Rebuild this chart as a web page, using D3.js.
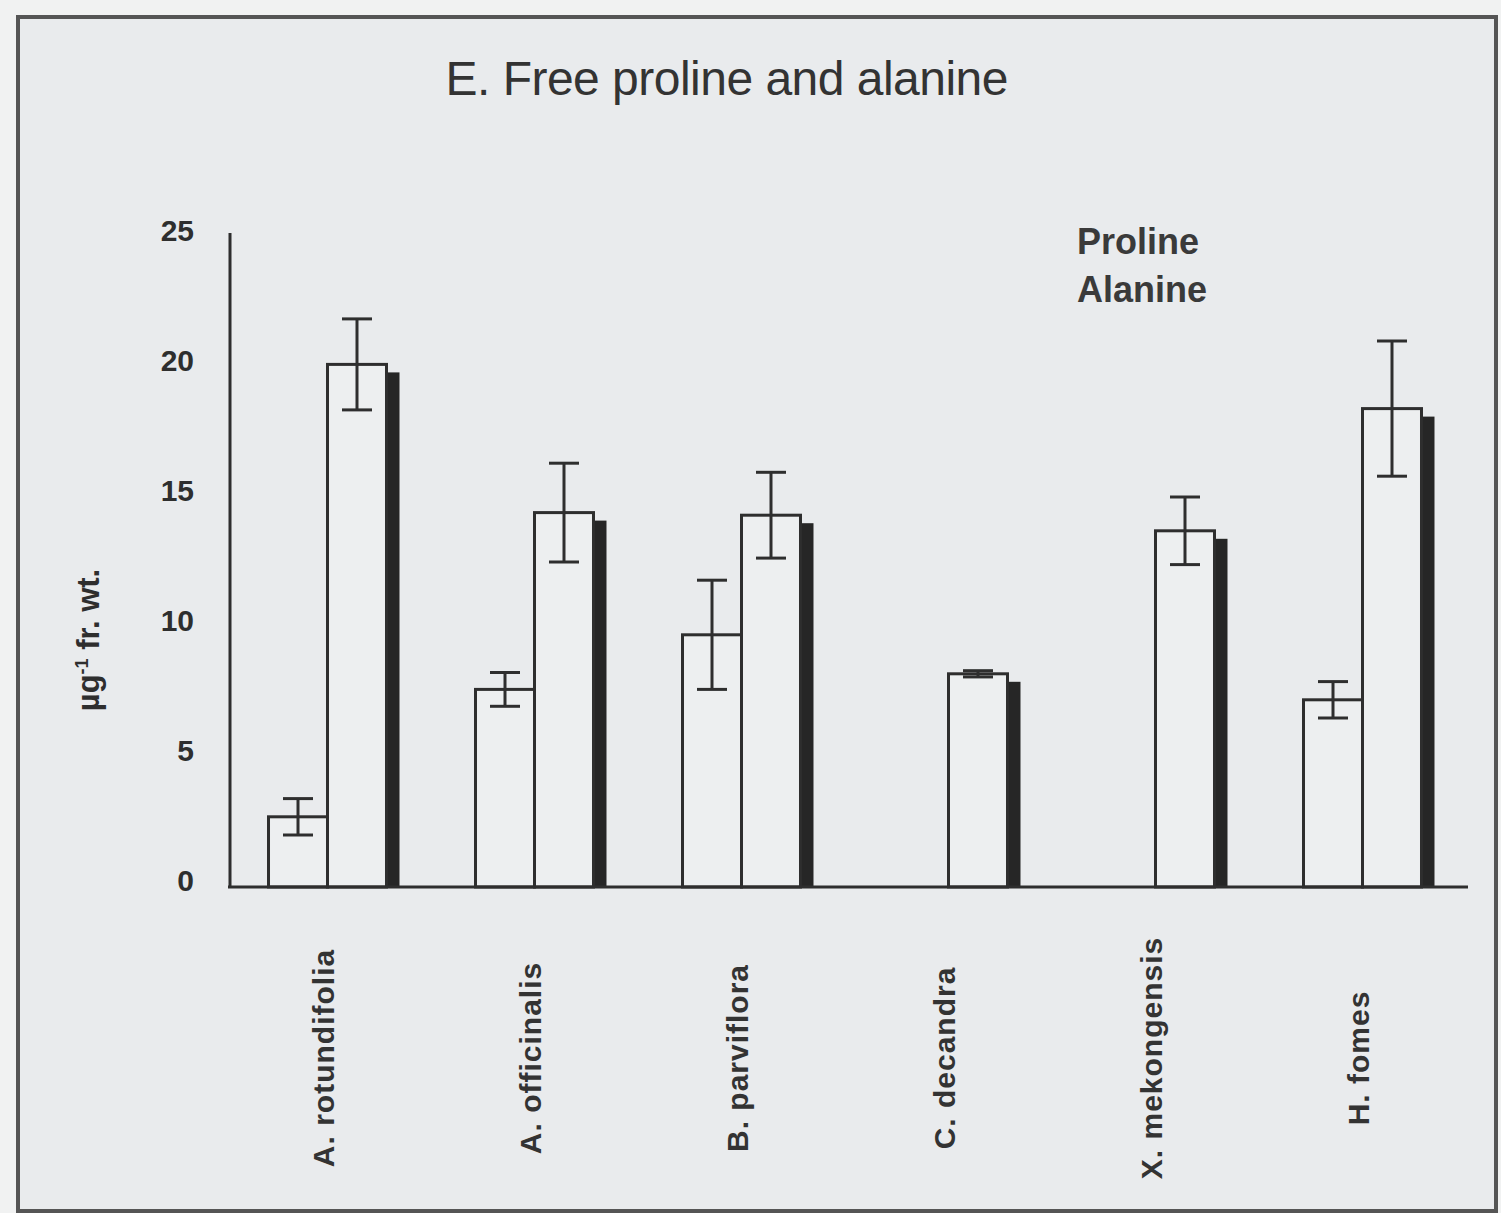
<!DOCTYPE html>
<html>
<head>
<meta charset="utf-8">
<script src="https://cdn.jsdelivr.net/npm/d3@7"></script>
<style>
  body { margin: 0; background: #f1f2f2; }
  svg { display: block; }
</style>
</head>
<body>
<svg id="chart"></svg>
<script>
const categories = ['A. rotundifolia', 'A. officinalis', 'B. parviflora', 'C. decandra', 'X. mekongensis', 'H. fomes'];
const series = ['Proline', 'Alanine'];
const prolineValues = [2.7, 7.6, 9.7, null, null, 7.2];
const prolineErrors = [0.7, 0.65, 2.1, null, null, 0.7];
const alanineValues = [20.1, 14.4, 14.3, 8.2, 13.7, 18.4];
const alanineErrors = [1.75, 1.9, 1.65, 0.12, 1.3, 2.6];
const yTicks = [0, 5, 10, 15, 20, 25];

const width = 1501;
const height = 1213;
const ink = '#2e2e2e';

const svg = d3.select('#chart')
  .attr('width', width)
  .attr('height', height);

// photo frame
svg.append('rect')
  .attr('x', 18).attr('y', 17)
  .attr('width', 1478).attr('height', 1194)
  .attr('fill', '#e9ebed')
  .attr('stroke', '#555')
  .attr('stroke-width', 4);

const x0 = d3.scaleBand()
  .domain(categories)
  .range([224, 1466])
  .paddingInner(0.43)
  .paddingOuter(0.215);

const x1 = d3.scaleBand()
  .domain(series)
  .range([0, x0.bandwidth()]);

const y = d3.scaleLinear()
  .domain([0, 25])
  .range([887, 237]);

// rows: one per bar
const rows = [];
categories.forEach((c, i) => {
  rows.push({ cat: c, s: 'Proline', v: prolineValues[i], e: prolineErrors[i] });
  rows.push({ cat: c, s: 'Alanine', v: alanineValues[i], e: alanineErrors[i] });
});
const bars = rows.filter(d => d.v != null);

// shadow behind the alanine bars (3D look of the print)
const dx = 13, dy = 8;
svg.append('g')
  .selectAll('rect')
  .data(bars.filter(d => d.s === 'Alanine'))
  .join('rect')
  .attr('x', d => x0(d.cat) + x1(d.s) + dx)
  .attr('y', d => y(d.v) + dy)
  .attr('width', x1.bandwidth())
  .attr('height', d => y(0) - y(d.v) - dy)
  .attr('fill', '#262626');

svg.append('g')
  .selectAll('rect')
  .data(bars)
  .join('rect')
  .attr('x', d => x0(d.cat) + x1(d.s))
  .attr('y', d => y(d.v))
  .attr('width', x1.bandwidth())
  .attr('height', d => y(0) - y(d.v))
  .attr('fill', '#edeff0')
  .attr('stroke', ink)
  .attr('stroke-width', 3);

// error bars
const capW = 15;
const err = svg.append('g')
  .attr('stroke', ink)
  .attr('stroke-width', 3)
  .selectAll('g')
  .data(bars)
  .join('g')
  .attr('transform', d => `translate(${x0(d.cat) + x1(d.s) + x1.bandwidth() / 2},0)`);
err.append('line')
  .attr('y1', d => y(d.v + d.e)).attr('y2', d => y(d.v - d.e));
err.append('line')
  .attr('x1', -capW).attr('x2', capW)
  .attr('y1', d => y(d.v + d.e)).attr('y2', d => y(d.v + d.e));
err.append('line')
  .attr('x1', -capW).attr('x2', capW)
  .attr('y1', d => y(d.v - d.e)).attr('y2', d => y(d.v - d.e));

// axes
svg.append('line')
  .attr('x1', 230).attr('x2', 230)
  .attr('y1', y(25) - 4).attr('y2', y(0))
  .attr('stroke', ink).attr('stroke-width', 3);
svg.append('line')
  .attr('x1', 228).attr('x2', 1468)
  .attr('y1', y(0)).attr('y2', y(0))
  .attr('stroke', ink).attr('stroke-width', 3);

svg.append('g')
  .selectAll('text')
  .data(yTicks)
  .join('text')
  .attr('x', 194)
  .attr('y', d => y(d) + 4)
  .attr('text-anchor', 'end')
  .style('font-family', 'Liberation Sans, Arial, sans-serif')
  .style('font-weight', 'bold')
  .style('font-size', '30px')
  .style('fill', ink)
  .text(d => d);

// category labels, rotated
svg.append('g')
  .selectAll('text')
  .data(categories)
  .join('text')
  .attr('transform', d => `translate(${x0(d) + x0.bandwidth() / 2 + 6},1058) rotate(-90)`)
  .attr('text-anchor', 'middle')
  .style('font-family', 'Liberation Sans, Arial, sans-serif')
  .style('font-weight', 'bold')
  .style('font-size', '30px')
  .style('letter-spacing', '1px')
  .style('fill', '#333')
  .text(d => d);

// y label
const yl = svg.append('text')
  .attr('transform', 'translate(99,640) rotate(-90)')
  .attr('text-anchor', 'middle')
  .style('font-family', 'Liberation Sans, Arial, sans-serif')
  .style('font-weight', 'bold')
  .style('font-size', '31px')
  .style('fill', ink);
yl.append('tspan').text('µg');
yl.append('tspan').attr('dy', -11).style('font-size', '18px').text('-1');
yl.append('tspan').attr('dy', 11).text(' fr. wt.');

// legend (text only)
svg.append('g')
  .selectAll('text')
  .data(series)
  .join('text')
  .attr('x', 1077)
  .attr('y', (d, i) => 254 + i * 48)
  .style('font-family', 'Liberation Sans, Arial, sans-serif')
  .style('font-weight', 'bold')
  .style('font-size', '36px')
  .style('fill', '#3a3a3a')
  .text(d => d);

// title
svg.append('text')
  .attr('x', 727)
  .attr('y', 95)
  .attr('text-anchor', 'middle')
  .attr('textLength', 563)
  .style('font-family', 'Liberation Sans, Arial, sans-serif')
  .style('font-size', '48px')
  .style('fill', '#333')
  .text('E. Free proline and alanine');
</script>
</body>
</html>
